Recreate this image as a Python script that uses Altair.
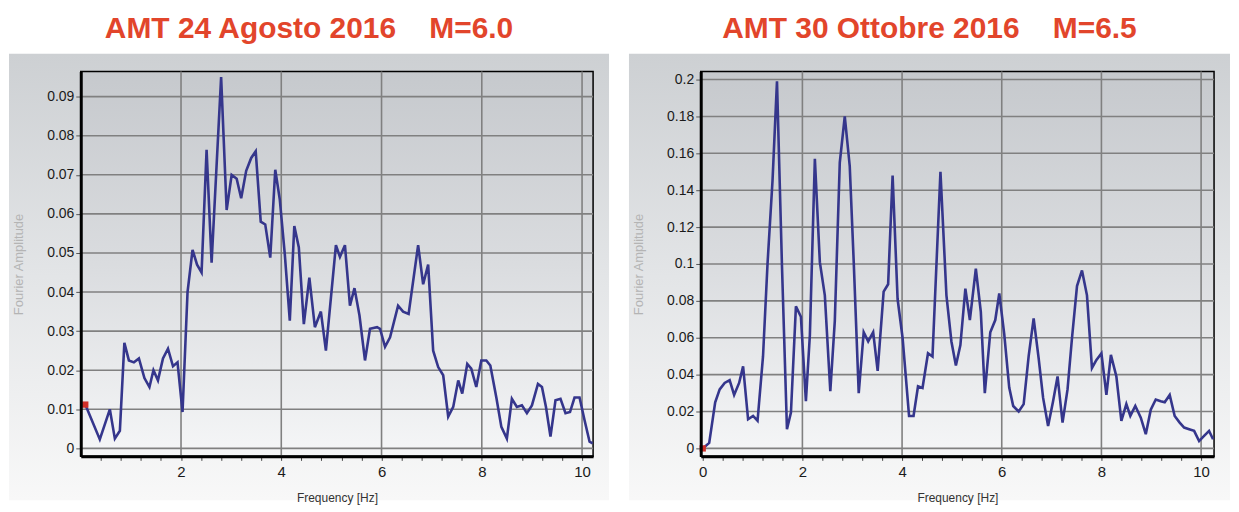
import altair as alt
import pandas as pd

# ---------------- data ----------------
GAP = "\u00a0" * 4
left_title = "AMT 24 Agosto 2016" + GAP + "M=6.0"
right_title = "AMT 30 Ottobre 2016" + GAP + "M=6.5"

left_freq = [0.09, 0.38, 0.58, 0.68, 0.78, 0.87, 0.96, 1.06, 1.16, 1.27, 1.37, 1.45, 1.54,
             1.64, 1.74, 1.84, 1.93, 2.03, 2.13, 2.23, 2.32, 2.41, 2.51, 2.61, 2.80, 2.91,
             3.01, 3.11, 3.20, 3.30, 3.40, 3.49, 3.59, 3.68, 3.78, 3.88, 3.97, 4.07, 4.17,
             4.26, 4.35, 4.45, 4.56, 4.67, 4.79, 4.89, 5.09, 5.17, 5.27, 5.37, 5.46, 5.56,
             5.67, 5.77, 5.91, 5.97, 6.07, 6.17, 6.33, 6.43, 6.54, 6.73, 6.83, 6.93, 7.03,
             7.13, 7.23, 7.33, 7.43, 7.53, 7.61, 7.71, 7.79, 7.89, 7.99, 8.09, 8.17, 8.29,
             8.39, 8.50, 8.60, 8.70, 8.80, 8.90, 9.00, 9.12, 9.20, 9.28, 9.37, 9.47, 9.57,
             9.67, 9.76, 9.85, 9.95, 10.05, 10.15, 10.21]
left_amp = [0.0112, 0.0023, 0.0100, 0.0025, 0.0045, 0.0270, 0.0225, 0.0220, 0.0230, 0.0180,
            0.0157, 0.0200, 0.0174, 0.0230, 0.0255, 0.0210, 0.0220, 0.0093, 0.0400, 0.0508,
            0.0470, 0.0450, 0.0764, 0.0475, 0.0950, 0.0610, 0.0700, 0.0690, 0.0640, 0.0710,
            0.0743, 0.0760, 0.0580, 0.0573, 0.0488, 0.0713, 0.0637, 0.0497, 0.0327, 0.0569,
            0.0514, 0.0318, 0.0437, 0.0310, 0.0350, 0.0250, 0.0520, 0.0490, 0.0520, 0.0365,
            0.0410, 0.0340, 0.0225, 0.0306, 0.0310, 0.0306, 0.0260, 0.0284, 0.0365, 0.0350,
            0.0344, 0.0520, 0.0420, 0.0470, 0.0250, 0.0208, 0.0187, 0.0081, 0.0106, 0.0174,
            0.0140, 0.0216, 0.0204, 0.0157, 0.0225, 0.0225, 0.0212, 0.0130, 0.0055, 0.0025,
            0.0127, 0.0106, 0.0110, 0.0090, 0.0110, 0.0165, 0.0157, 0.0106, 0.0030, 0.0123,
            0.0127, 0.0090, 0.0093, 0.0130, 0.0130, 0.0072, 0.0017, 0.0013]

right_freq = [0.00, 0.13, 0.25, 0.34, 0.44, 0.54, 0.63, 0.73, 0.81, 0.91, 1.01, 1.10, 1.21,
              1.30, 1.40, 1.49, 1.59, 1.69, 1.77, 1.87, 1.97, 2.07, 2.15, 2.25, 2.35, 2.45,
              2.56, 2.65, 2.75, 2.85, 2.95, 3.03, 3.13, 3.23, 3.32, 3.42, 3.51, 3.63, 3.72,
              3.81, 3.91, 4.01, 4.14, 4.23, 4.32, 4.41, 4.52, 4.61, 4.77, 4.89, 4.99, 5.08,
              5.17, 5.27, 5.36, 5.48, 5.58, 5.66, 5.77, 5.87, 5.95, 6.05, 6.15, 6.23, 6.34,
              6.44, 6.54, 6.64, 6.74, 6.83, 6.93, 7.03, 7.12, 7.22, 7.32, 7.41, 7.51, 7.61,
              7.71, 7.81, 7.90, 8.00, 8.10, 8.19, 8.30, 8.40, 8.50, 8.58, 8.68, 8.79, 8.89,
              8.99, 9.09, 9.19, 9.27, 9.37, 9.47, 9.57, 9.66, 9.76, 9.86, 9.96, 10.06, 10.16,
              10.24]
right_amp = [0.0000, 0.0030, 0.0250, 0.0320, 0.0355, 0.0370, 0.0290, 0.0355, 0.0445, 0.0158,
             0.0176, 0.0150, 0.0500, 0.1000, 0.1450, 0.1990, 0.0990, 0.0104, 0.0194, 0.0770,
             0.0714, 0.0256, 0.0615, 0.1570, 0.1010, 0.0830, 0.0310, 0.0690, 0.1550, 0.1800,
             0.1530, 0.1010, 0.0300, 0.0630, 0.0580, 0.0630, 0.0420, 0.0850, 0.0890, 0.1480,
             0.0810, 0.0600, 0.0176, 0.0176, 0.0337, 0.0328, 0.0516, 0.0498, 0.1500, 0.0830,
             0.0580, 0.0450, 0.0560, 0.0866, 0.0696, 0.0974, 0.0740, 0.0300, 0.0630, 0.0696,
             0.0840, 0.0620, 0.0330, 0.0230, 0.0200, 0.0240, 0.0500, 0.0705, 0.0490, 0.0274,
             0.0122, 0.0256, 0.0390, 0.0140, 0.0320, 0.0600, 0.0880, 0.0965, 0.0830, 0.0436,
             0.0480, 0.0516, 0.0290, 0.0507, 0.0390, 0.0149, 0.0240, 0.0176, 0.0230, 0.0167,
             0.0077, 0.0210, 0.0265, 0.0256, 0.0250, 0.0290, 0.0176, 0.0140, 0.0113, 0.0104,
             0.0095, 0.0040, 0.0068, 0.0095, 0.0050]

left_x_ticks = [0.4, 0.8, 1.2, 1.6, 2, 2.4, 2.8, 3.2, 3.6, 4, 4.4, 4.8, 5.2, 5.6, 6, 6.4,
                6.8, 7.2, 7.6, 8, 8.4, 8.8, 9.2, 9.6, 10]
right_x_ticks = [0, 0.4, 0.8, 1.2, 1.6, 2, 2.4, 2.8, 3.2, 3.6, 4, 4.4, 4.8, 5.2, 5.6, 6, 6.4,
                 6.8, 7.2, 7.6, 8, 8.4, 8.8, 9.2, 9.6, 10]
x_grid = [2, 4, 6, 8, 10]
left_y_ticks = [0, 0.01, 0.02, 0.03, 0.04, 0.05, 0.06, 0.07, 0.08, 0.09]
right_y_ticks = [0, 0.02, 0.04, 0.06, 0.08, 0.1, 0.12, 0.14, 0.16, 0.18, 0.2]

x_title = "Frequency [Hz]"
y_title = "Fourier Amplitude"

# ---------------- styling ----------------
LINE = "#35368c"
TITLE_RED = "#e2452b"
GRID = "#808080"
REG = "Liberation Sans, Arial, sans-serif"
MAJOR = "abs(datum.value/2 - round(datum.value/2)) < 0.01"

outer_grad = alt.LinearGradient(gradient="linear", x1=0, x2=0, y1=0, y2=1,
                                stops=[alt.GradientStop(color="#cdd0d3", offset=0),
                                       alt.GradientStop(color="#e3e5e7", offset=0.5),
                                       alt.GradientStop(color="#f8f8f8", offset=1)])
inner_grad = alt.LinearGradient(gradient="linear", x1=0, x2=0, y1=0, y2=1,
                                stops=[alt.GradientStop(color="#c6c9cd", offset=0),
                                       alt.GradientStop(color="#dadcdf", offset=0.5),
                                       alt.GradientStop(color="#f5f6f7", offset=1)])


def panel(freq, amp, title, xdom, ydom, xticks, yticks, W, H, show_zero):
    df = pd.DataFrame({"f": freq, "a": amp})
    one = alt.Data(values=[{"k": 0}])
    lab_test = MAJOR if show_zero else MAJOR + " && datum.value > 0.1"
    x_axis = alt.Axis(values=xticks, title=x_title, zindex=1, grid=False,
                      labelExpr=f"({lab_test}) ? format(datum.value, '~g') : ''",
                      labelOverlap=False, labelFont=REG, labelFontSize=15,
                      labelColor="#1a1a1a", labelPadding=4,
                      tickSize=4, tickColor="#444", tickWidth=1,
                      domainColor="black", domainWidth=3,
                      titleFont=REG, titleFontSize=12, titleFontWeight="normal",
                      titleColor="#333", titleY=41, titleBaseline="middle")
    y_axis = alt.Axis(values=yticks, title=y_title, zindex=1, format="~g", grid=False,
                      labelOverlap=False, labelFont=REG, labelFontSize=14,
                      labelColor="#1a1a1a", labelPadding=2,
                      tickSize=5, tickColor="#555", tickWidth=1,
                      domainColor="black", domainWidth=3,
                      titleFont=REG, titleFontSize=13, titleFontWeight="normal",
                      titleColor="#b4b4b4", titleX=-62, titleY=H / 2,
                      titleAlign="center", titleBaseline="middle")
    xs = alt.Scale(domain=xdom, nice=False, zero=False)
    ys = alt.Scale(domain=ydom, nice=False, zero=False)

    outer = alt.Chart(one).mark_rect(fill=outer_grad).encode(
        x=alt.value(-72), x2=alt.value(W + 16), y=alt.value(-18), y2=alt.value(H + 44))
    inner = alt.Chart(one).mark_rect(fill=inner_grad, stroke="black", strokeWidth=1.5).encode(
        x=alt.value(0), x2=alt.value(W), y=alt.value(0), y2=alt.value(H))
    vgrid = alt.Chart(pd.DataFrame({"g": x_grid})).mark_rule(color=GRID, strokeWidth=1.6).encode(
        x=alt.X("g:Q", scale=xs, axis=x_axis))
    hgrid = alt.Chart(pd.DataFrame({"g": yticks})).mark_rule(color=GRID, strokeWidth=1.6).encode(
        y=alt.Y("g:Q", scale=ys, axis=y_axis))
    line = alt.Chart(df).mark_line(color=LINE, strokeWidth=2.6).encode(
        x=alt.X("f:Q", scale=xs, axis=x_axis),
        y=alt.Y("a:Q", scale=ys, axis=y_axis))
    dot = alt.Chart(df.head(1)).mark_square(color="#d0302a", size=40, opacity=1).encode(
        x=alt.X("f:Q", scale=xs, axis=x_axis), y=alt.Y("a:Q", scale=ys, axis=y_axis))
    return alt.layer(outer, inner, vgrid, hgrid, line, dot).properties(
        width=W, height=H,
        title=alt.Title(title, font=REG, fontSize=30, fontWeight="bold", color=TITLE_RED,
                        anchor="middle", frame="bounds", baseline="alphabetic", offset=-14))


left = panel(left_freq, left_amp, left_title, [0, 10.22], [-0.00204, 0.0964],
             left_x_ticks, left_y_ticks, 514, 386, False)
right = panel(right_freq, right_amp, right_title, [-0.04, 10.26], [-0.0043, 0.2043],
              right_x_ticks, right_y_ticks, 515, 386, True)

chart = alt.hconcat(left, right, spacing=18).properties(
    padding={"left": 0, "top": 4, "right": 0, "bottom": 0}
).configure_view(stroke=None).configure(background="white")

chart.save("out.html", embed_options={"renderer": "svg", "actions": False})
